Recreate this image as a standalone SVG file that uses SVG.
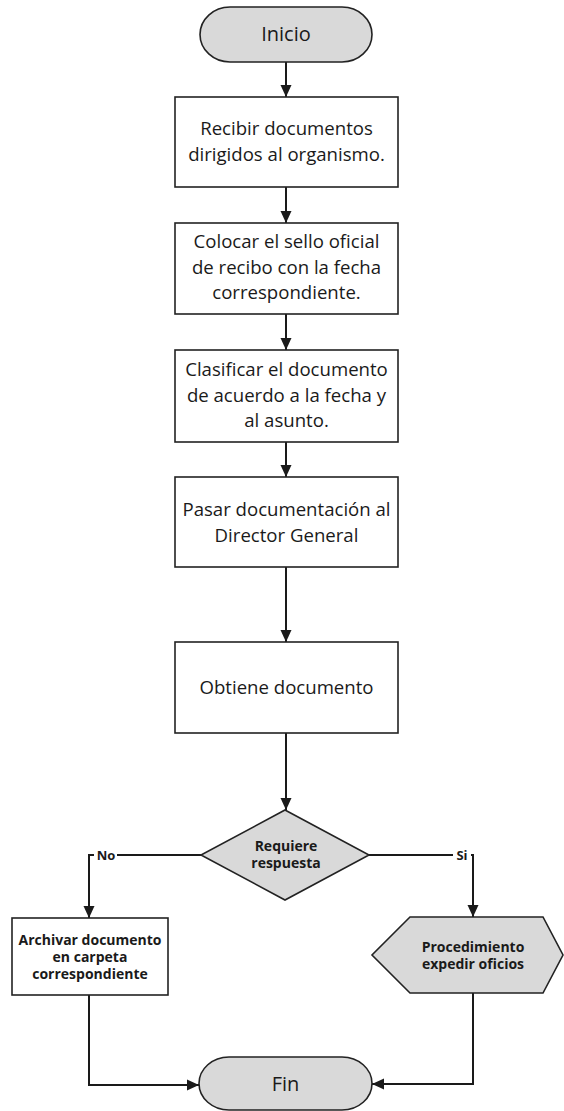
<svg xmlns="http://www.w3.org/2000/svg" width="564" height="1111" viewBox="0 0 564 1111">
<style>
.box{fill:#ffffff;stroke:#222;stroke-width:1.6}
.gray{fill:#d9d9d9;stroke:#222;stroke-width:1.6}
.t{font-family:"Open Sans","Noto Sans",sans-serif;font-size:18.6px;fill:#1a1a1a;text-anchor:middle}
.tb{font-family:"Open Sans","Noto Sans",sans-serif;font-size:14px;font-weight:bold;fill:#1a1a1a;text-anchor:middle}
.tl{font-family:"Open Sans","Noto Sans",sans-serif;font-size:20px;fill:#1a1a1a;text-anchor:middle}
.lab{font-family:"Open Sans","Noto Sans",sans-serif;font-size:13px;font-weight:bold;fill:#1a1a1a;text-anchor:middle}
.c{fill:none;stroke:#1a1a1a;stroke-width:2}
</style>
<defs>
<marker id="arr" markerUnits="userSpaceOnUse" markerWidth="12" markerHeight="12" refX="12" refY="6" orient="auto">
<path d="M0,0.5 L12,6 L0,11.5 z" fill="#1a1a1a"/>
</marker>
</defs>
<rect width="564" height="1111" fill="#ffffff"/>
<g id="connectors">
<path class="c" d="M286,62 V97" marker-end="url(#arr)"/>
<path class="c" d="M286,187 V223" marker-end="url(#arr)"/>
<path class="c" d="M286,314 V350" marker-end="url(#arr)"/>
<path class="c" d="M286,442 V477" marker-end="url(#arr)"/>
<path class="c" d="M286,567 V642" marker-end="url(#arr)"/>
<path class="c" d="M286,733 V810" marker-end="url(#arr)"/>
<path class="c" d="M201,855 H89 V918" marker-end="url(#arr)"/>
<path class="c" d="M369,855 H473 V917" marker-end="url(#arr)"/>
<path class="c" d="M89,995 V1085 H199" marker-end="url(#arr)"/>
<path class="c" d="M473,993 V1084 H372" marker-end="url(#arr)"/>
<rect x="94" y="846" width="23" height="18" fill="#ffffff"/>
<text class="lab" x="106" y="860">No</text>
<rect x="453" y="846" width="18" height="18" fill="#ffffff"/>
<text class="lab" x="462" y="860">Si</text>
</g>
<g id="inicio">
<rect class="gray" x="200" y="7" width="172" height="55" rx="30" ry="27.5"/>
<text class="tl" x="286" y="41">Inicio</text>
</g>
<g id="recibir">
<rect class="box" x="175" y="97" width="223" height="90"/>
<text class="t" x="286.5" y="135">Recibir documentos</text>
<text class="t" x="286.5" y="160.5">dirigidos al organismo.</text>
</g>
<g id="colocar">
<rect class="box" x="175" y="223" width="223" height="91"/>
<text class="t" x="286.5" y="248">Colocar el sello oficial</text>
<text class="t" x="286.5" y="273.5">de recibo con la fecha</text>
<text class="t" x="286.5" y="299">correspondiente.</text>
</g>
<g id="clasificar">
<rect class="box" x="175" y="350" width="223" height="92"/>
<text class="t" x="286.5" y="376">Clasificar el documento</text>
<text class="t" x="286.5" y="401.5">de acuerdo a la fecha y</text>
<text class="t" x="286.5" y="427">al asunto.</text>
</g>
<g id="pasar">
<rect class="box" x="175" y="477" width="223" height="90"/>
<text class="t" x="286.5" y="516">Pasar documentación al</text>
<text class="t" x="286.5" y="541.5">Director General</text>
</g>
<g id="obtiene">
<rect class="box" x="175" y="642" width="223" height="91"/>
<text class="t" x="286.5" y="694">Obtiene documento</text>
</g>
<g id="requiere">
<polygon class="gray" points="285,810 369,855 285,900 201,855"/>
<text class="tb" x="286" y="851">Requiere</text>
<text class="tb" x="286" y="868">respuesta</text>
</g>
<g id="archivar">
<rect class="box" x="12" y="918" width="156" height="77"/>
<text class="tb" x="90" y="945">Archivar documento</text>
<text class="tb" x="90" y="962">en carpeta</text>
<text class="tb" x="90" y="979">correspondiente</text>
</g>
<g id="procedimiento">
<polygon class="gray" points="410,917 543,917 563,955 543,993 410,993 372,955"/>
<text class="tb" x="473" y="952">Procedimiento</text>
<text class="tb" x="473" y="969">expedir oficios</text>
</g>
<g id="fin">
<rect class="gray" x="199" y="1057" width="173" height="53" rx="30" ry="26.5"/>
<text class="tl" x="285.5" y="1091">Fin</text>
</g>
</svg>
